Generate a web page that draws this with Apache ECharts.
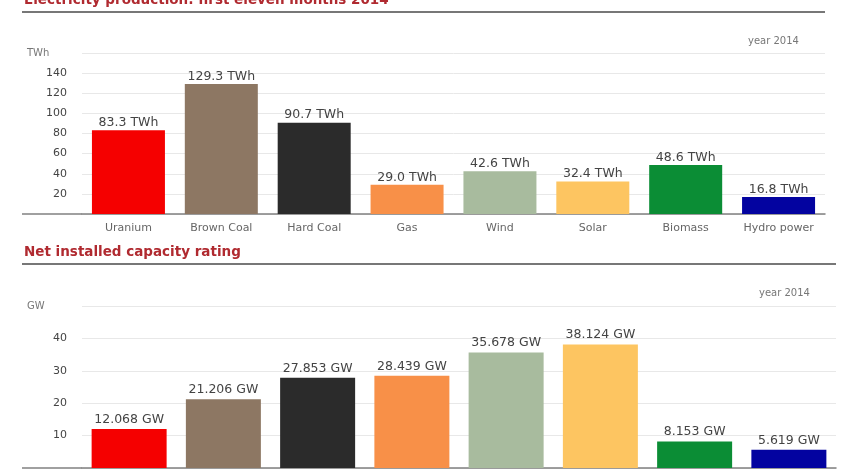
<!DOCTYPE html>
<html>
<head>
    <meta charset="utf-8">
    <title>Electricity production 2014</title>
    <script src="https://cdn.jsdelivr.net/npm/echarts@6/dist/echarts.min.js"></script>
    <style>
        html, body { margin: 0; padding: 0; background: #fff; }
        #main { width: 846px; height: 476px; }
    </style>
</head>
<body>
    <div id="main"></div>
    <script>
        // data
        var categories = ['Uranium', 'Brown Coal', 'Hard Coal', 'Gas', 'Wind', 'Solar', 'Biomass', 'Hydro power'];
        var production = [83.3, 129.3, 90.7, 29.0, 42.6, 32.4, 48.6, 16.8];   // TWh
        var capacity = [12.068, 21.206, 27.853, 28.439, 35.678, 38.124, 8.153, 5.619];  // GW
        var barColors = ['#f50000', '#8d7763', '#2b2b2b', '#f89048', '#a8bb9e', '#fdc561', '#0b8d35', '#0303a0'];
        var productionAxis = { min: 0, max: 160, interval: 20 };
        var capacityAxis = { min: 0, max: 50, interval: 10 };

        var titleColor = '#b02a30';
        var font = 'DejaVu Sans';

        function hideEnds(ax) {
            return function (v) { return (v === ax.min || v === ax.max) ? '' : v; };
        }

        var myChart = echarts.init(document.getElementById('main'));

        var smallText = { color: '#777', fontSize: 10, fontWeight: 'normal', fontFamily: font };

        var option = {
            backgroundColor: '#fff',
            textStyle: { fontFamily: font },
            title: [
                { text: 'Electricity production: first eleven months 2014', left: 24, top: -7, padding: 0,
                  textStyle: { color: titleColor, fontSize: 13.5, fontWeight: 'bold', fontFamily: font } },
                { text: 'Net installed capacity rating', left: 24, top: 245, padding: 0,
                  textStyle: { color: titleColor, fontSize: 13.5, fontWeight: 'bold', fontFamily: font } },
                { text: 'TWh', left: 27, top: 48, padding: 0, textStyle: smallText },
                { text: 'GW', left: 27, top: 301, padding: 0, textStyle: smallText },
                { text: 'year 2014', left: 748, top: 36, padding: 0, textStyle: smallText },
                { text: 'year 2014', left: 759, top: 288, padding: 0, textStyle: smallText }
            ],
            grid: [
                { left: 82, right: 21, top: 53, height: 161, outerBoundsMode: 'none' },
                { left: 82, right: 10, top: 306, height: 162, outerBoundsMode: 'none' }
            ],
            xAxis: [
                { type: 'category', gridIndex: 0, data: categories,
                  axisLine: { lineStyle: { color: '#808080', width: 1.5 } },
                  axisTick: { show: false },
                  axisLabel: { color: '#666', fontSize: 11, margin: 9, interval: 0 } },
                { type: 'category', gridIndex: 1, data: categories,
                  axisLine: { lineStyle: { color: '#808080', width: 1.5 } },
                  axisTick: { show: false },
                  axisLabel: { color: '#666', fontSize: 11, margin: 9, interval: 0 } }
            ],
            yAxis: [
                { type: 'value', gridIndex: 0, min: productionAxis.min, max: productionAxis.max,
                  interval: productionAxis.interval,
                  axisLine: { show: false }, axisTick: { show: false },
                  axisLabel: { color: '#444', fontSize: 11, margin: 15, formatter: hideEnds(productionAxis) },
                  splitLine: { lineStyle: { color: '#e8e8e8' } } },
                { type: 'value', gridIndex: 1, min: capacityAxis.min, max: capacityAxis.max,
                  interval: capacityAxis.interval,
                  axisLine: { show: false }, axisTick: { show: false },
                  axisLabel: { color: '#444', fontSize: 11, margin: 15, formatter: hideEnds(capacityAxis) },
                  splitLine: { lineStyle: { color: '#e8e8e8' } } }
            ],
            series: [
                {
                    name: 'production', type: 'bar', xAxisIndex: 0, yAxisIndex: 0,
                    barWidth: 73,
                    data: production,
                    itemStyle: { color: function (p) { return barColors[p.dataIndex]; } },
                    label: { show: true, position: 'top', distance: 1, color: '#444', fontSize: 12.5,
                             formatter: function (p) { return p.value.toFixed(1) + ' TWh'; } }
                },
                {
                    name: 'capacity', type: 'bar', xAxisIndex: 1, yAxisIndex: 1,
                    barWidth: 75,
                    data: capacity,
                    itemStyle: { color: function (p) { return barColors[p.dataIndex]; } },
                    label: { show: true, position: 'top', distance: 3, color: '#444', fontSize: 12.5,
                             formatter: function (p) { return p.value.toFixed(3) + ' GW'; } }
                }
            ],
            // separator rules under the titles and the baseline run-in on the left
            graphic: [
                { type: 'line', shape: { x1: 22, y1: 12, x2: 825, y2: 12 }, style: { stroke: '#777', lineWidth: 2 } },
                { type: 'line', shape: { x1: 22, y1: 264, x2: 836, y2: 264 }, style: { stroke: '#777', lineWidth: 2 } },
                { type: 'line', shape: { x1: 22, y1: 214, x2: 82, y2: 214 }, style: { stroke: '#808080', lineWidth: 1.5 } },
                { type: 'line', shape: { x1: 22, y1: 468, x2: 82, y2: 468 }, style: { stroke: '#808080', lineWidth: 1.5 } }
            ]
        };

        myChart.setOption(option);
    </script>
</body>
</html>
